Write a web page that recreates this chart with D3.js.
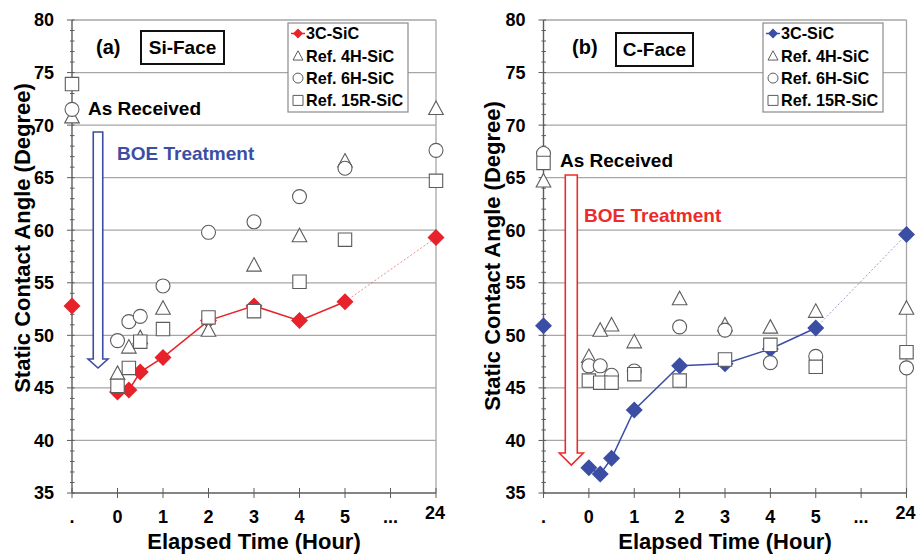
<!DOCTYPE html>
<html>
<head>
<meta charset="utf-8">
<script src="https://cdn.jsdelivr.net/npm/d3@7"></script>
<style>
  body { margin: 0; background: #fff; }
  svg { display: block; font-family: "Liberation Sans", Arial, sans-serif; font-weight: bold; }
</style>
</head>
<body>
<svg id="chart" width="916" height="554"></svg>
<script>
// elapsed time of each measurement (null = as received, before BOE)
const hours = [null, 0, 0.25, 0.5, 1, 2, 3, 4, 5, 24];
const xTickLabels = ['.', '0', '1', '2', '3', '4', '5', '...', '24'];
const yTicks = [35, 40, 45, 50, 55, 60, 65, 70, 75, 80];
const seriesNames = ['3C-SiC', 'Ref. 4H-SiC', 'Ref. 6H-SiC', 'Ref. 15R-SiC'];

// (a) Si-Face
const si3C  = [52.8, 44.6, 44.8, 46.5, 47.9, 51.4, 52.8, 51.4, 53.2, 59.3];
const si4H  = [70.8, 46.4, 48.9, 49.8, 52.6, 50.5, 56.7, 59.5, 66.6, 71.6];
const si6H  = [71.5, 49.5, 51.3, 51.8, 54.7, 59.8, 60.8, 63.2, 65.9, 67.6];
const si15R = [73.9, 45.2, 46.9, 49.4, 50.6, 51.7, 52.3, 55.1, 59.1, 64.7];

// (b) C-Face
const c3C  = [50.9, 37.4, 36.8, 38.3, 42.9, 47.1, 47.3, 48.7, 50.7, 59.6];
const c4H  = [64.7, 48.0, 50.5, 51.0, 49.4, 53.5, 51.0, 50.8, 52.3, 52.6];
const c6H  = [67.3, 47.1, 47.1, 46.2, 46.6, 50.8, 50.5, 47.4, 48.0, 46.9];
const c15R = [66.4, 45.7, 45.5, 45.5, 46.3, 45.7, 47.7, 49.1, 47.0, 48.4];

// hour -> slot on the broken x axis
function slot(h) {
  if (h === null) return -1;
  if (h === 24) return 7;
  return h;
}
const tickSlots = [-1, 0, 1, 2, 3, 4, 5, 6, 7];

function markerPath(type, s) {
  if (type === 'diamond') return `M0,${-s}L${s},0L0,${s}L${-s},0Z`;
  if (type === 'triangle') return `M0,${-s}L${s},${s * 0.85}L${-s},${s * 0.85}Z`;
  if (type === 'square') return `M${-s},${-s}H${s}V${s}H${-s}Z`;
  const p = d3.path();
  p.arc(0, 0, s, 0, 2 * Math.PI);
  return p.toString();
}

const svg = d3.select('#chart');
const grey = '#5c5c5c';

function drawPanel(opt) {
  const x = d3.scaleLinear().domain([-1, 7]).range([opt.x0, opt.x1]);
  const y = d3.scaleLinear().domain([35, 80]).range([493, 20]);
  const g = svg.append('g');

  // horizontal grid
  g.selectAll('.grid')
    .data(yTicks.filter(d => d > 35))
    .enter().append('line')
    .attr('x1', opt.x0).attr('x2', opt.x1)
    .attr('y1', d => y(d)).attr('y2', d => y(d))
    .attr('stroke', '#a6a6a6').attr('stroke-width', 1.3);

  // right border
  g.append('line')
    .attr('x1', opt.x1).attr('x2', opt.x1)
    .attr('y1', y(80)).attr('y2', y(35))
    .attr('stroke', '#a6a6a6').attr('stroke-width', 1.3);

  // y axis
  g.append('line')
    .attr('x1', opt.x0).attr('x2', opt.x0)
    .attr('y1', y(80)).attr('y2', y(35))
    .attr('stroke', grey).attr('stroke-width', 1.4);
  g.selectAll('.minor')
    .data(d3.range(35, 81, 1))
    .enter().append('line')
    .attr('x1', d => opt.x0 - (d % 5 === 0 ? 5 : 2))
    .attr('x2', opt.x0 + 2.5)
    .attr('y1', d => y(d)).attr('y2', d => y(d))
    .attr('stroke', grey).attr('stroke-width', 1);
  g.selectAll('.ylab')
    .data(yTicks)
    .enter().append('text')
    .attr('x', opt.x0 - 18)
    .attr('y', d => y(d))
    .attr('dy', '0.36em')
    .attr('text-anchor', 'end')
    .attr('font-size', 18)
    .text(d => d);

  // x axis
  g.append('line')
    .attr('x1', opt.x0).attr('x2', opt.x1)
    .attr('y1', y(35)).attr('y2', y(35))
    .attr('stroke', grey).attr('stroke-width', 1.4);
  g.selectAll('.xtick')
    .data(tickSlots)
    .enter().append('line')
    .attr('x1', d => x(d)).attr('x2', d => x(d))
    .attr('y1', y(35) - 5).attr('y2', y(35) + 5)
    .attr('stroke', grey).attr('stroke-width', 1);
  g.selectAll('.xlab')
    .data(tickSlots)
    .enter().append('text')
    .attr('x', (d, i) => x(d) + (i === 8 ? -1 : 0))
    .attr('y', (d, i) => i === 8 ? 519 : 523)
    .attr('text-anchor', 'middle')
    .attr('font-size', 18)
    .text((d, i) => xTickLabels[i]);

  // axis titles
  g.append('text')
    .attr('x', (opt.x0 + opt.x1) / 2)
    .attr('y', 549)
    .attr('text-anchor', 'middle')
    .attr('font-size', 22)
    .text('Elapsed Time (Hour)');
  g.append('text')
    .attr('transform', `translate(${opt.titleX},${opt.titleY}) rotate(-90)`)
    .attr('text-anchor', 'middle')
    .attr('dy', '0.36em')
    .attr('font-size', 22)
    .text('Static Contact Angle (Degree)');

  // 3C-SiC line: solid up to 5 h, dotted to 24 h
  const pts = hours.map((h, i) => [x(slot(h)), y(opt.s3C[i])]);
  g.append('path')
    .attr('d', d3.line()(pts.slice(1, 9)))
    .attr('fill', 'none').attr('stroke', opt.color).attr('stroke-width', 1.5);
  g.append('path')
    .attr('d', d3.line()(pts.slice(8, 10)))
    .attr('fill', 'none').attr('stroke', opt.color).attr('stroke-width', 0.9)
    .attr('stroke-dasharray', '2,2').attr('opacity', 0.6);

  g.selectAll('.m3c')
    .data(opt.s3C)
    .enter().append('path')
    .attr('transform', (d, i) => `translate(${x(slot(hours[i]))},${y(d)})`)
    .attr('d', markerPath('diamond', 8.5))
    .attr('fill', opt.color);

  const refs = [
    { vals: opt.s4H, type: 'triangle', size: 7.3 },
    { vals: opt.s6H, type: 'circle', size: 7 },
    { vals: opt.s15R, type: 'square', size: 6.7 }
  ];
  refs.forEach(r => {
    g.selectAll(null)
      .data(r.vals)
      .enter().append('path')
      .attr('transform', (d, i) => `translate(${x(slot(hours[i]))},${y(d)})`)
      .attr('d', markerPath(r.type, r.size))
      .attr('fill', '#fff').attr('stroke', grey).attr('stroke-width', 1.1);
  });

  // panel label and face box
  g.append('text')
    .attr('x', opt.labX).attr('y', 47).attr('dy', '0.36em')
    .attr('font-size', 20).text(opt.label);
  g.append('rect')
    .attr('x', opt.boxX).attr('y', opt.boxY)
    .attr('width', opt.boxW).attr('height', 33)
    .attr('fill', '#fff').attr('stroke', '#111').attr('stroke-width', 2);
  g.append('text')
    .attr('x', opt.boxX + opt.boxW / 2).attr('y', opt.boxY + 16.5).attr('dy', '0.36em')
    .attr('text-anchor', 'middle').attr('font-size', 19).text(opt.face);

  // legend
  const lg = g.append('g').attr('transform', `translate(${opt.legX},23)`);
  lg.append('rect')
    .attr('width', 120).attr('height', 89)
    .attr('fill', '#fff').attr('stroke', '#8a8a8a').attr('stroke-width', 1.2);
  const legTypes = ['diamond', 'triangle', 'circle', 'square'];
  seriesNames.forEach((name, i) => {
    const ly = 10.5 + i * 22.3;
    if (i === 0) {
      lg.append('line')
        .attr('x1', 3).attr('x2', 17).attr('y1', ly).attr('y2', ly)
        .attr('stroke', opt.color).attr('stroke-width', 1.5);
      lg.append('path')
        .attr('transform', `translate(10,${ly})`)
        .attr('d', markerPath('diamond', 5)).attr('fill', opt.color);
    } else {
      lg.append('path')
        .attr('transform', `translate(10,${ly})`)
        .attr('d', markerPath(legTypes[i], 5))
        .attr('fill', '#fff').attr('stroke', grey).attr('stroke-width', 1);
    }
    lg.append('text')
      .attr('x', 18).attr('y', ly).attr('dy', '0.36em')
      .attr('font-size', 16.2).text(name);
  });

  // annotations
  g.append('text')
    .attr('x', opt.recX).attr('y', opt.recY).attr('dy', '0.36em')
    .attr('font-size', 19).text('As Received');
  const a = opt.arrow;
  const hw = a.shaft / 2;
  g.append('path')
    .attr('d', `M${a.cx - hw},${a.top}V${a.base}H${a.cx - a.head}L${a.cx},${a.tip}L${a.cx + a.head},${a.base}H${a.cx + hw}V${a.top}Z`)
    .attr('fill', '#fff').attr('stroke', opt.arrowColor).attr('stroke-width', 1.6);
  g.append('text')
    .attr('x', opt.boeX).attr('y', opt.boeY).attr('dy', '0.36em')
    .attr('font-size', 19).attr('fill', opt.arrowColor).text('BOE Treatment');
}

drawPanel({
  x0: 72, x1: 436, color: '#e8222a', arrowColor: '#3b4ea3',
  s3C: si3C, s4H: si4H, s6H: si6H, s15R: si15R,
  titleX: 22, titleY: 238,
  label: '(a)', labX: 96, face: 'Si-Face', boxX: 141, boxY: 31, boxW: 83,
  legX: 288, recX: 88, recY: 108, boeX: 117, boeY: 153,
  arrow: { cx: 98, shaft: 9.5, head: 10, top: 132, base: 359, tip: 368 }
});

drawPanel({
  x0: 543.5, x1: 906.5, color: '#3b4ea3', arrowColor: '#ee2b2b',
  s3C: c3C, s4H: c4H, s6H: c6H, s15R: c15R,
  titleX: 492, titleY: 256,
  label: '(b)', labX: 572, face: 'C-Face', boxX: 616, boxY: 33, boxW: 77,
  legX: 763, recX: 560, recY: 160, boeX: 584, boeY: 215,
  arrow: { cx: 571.3, shaft: 12, head: 12, top: 175, base: 453, tip: 465 }
});
</script>
</body>
</html>
